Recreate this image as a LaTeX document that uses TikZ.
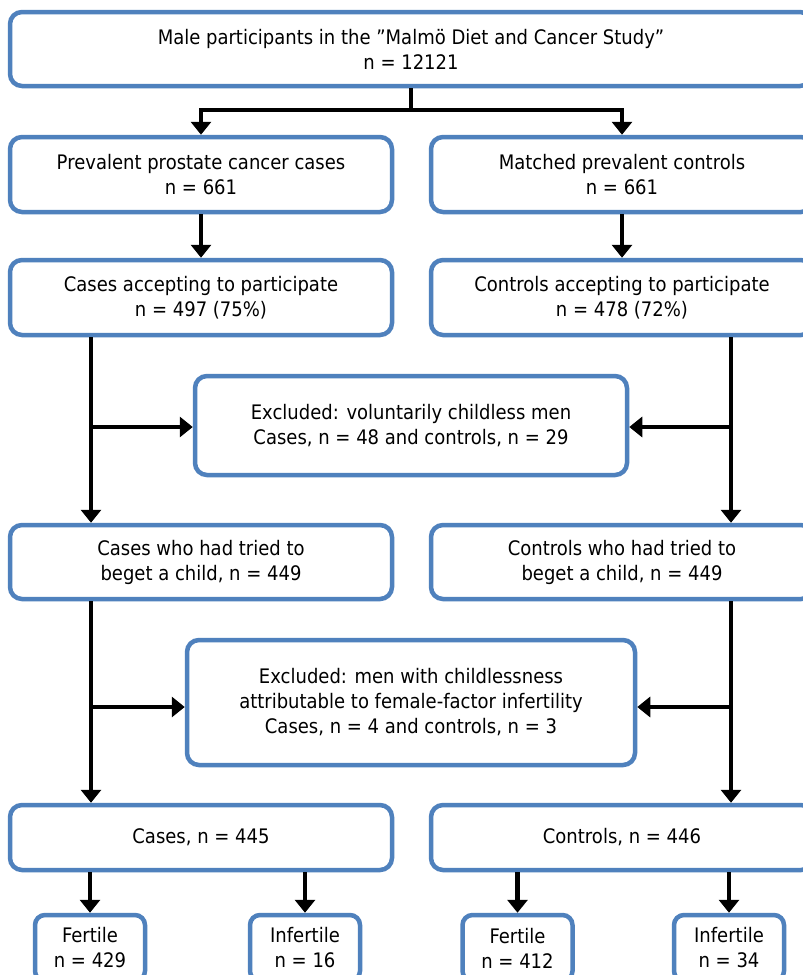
\documentclass[tikz,border=0pt]{standalone}
\usepackage{fontspec}
\setmainfont{DejaVu Sans}[FakeStretch=0.9]
\usetikzlibrary{arrows.meta}
\definecolor{boxblue}{RGB}{79,129,189}
\tikzset{
  x=1pt, y=-1pt,
  box/.style={draw=boxblue, line width=4.5pt, rounded corners=12pt, fill=white,
    inner sep=0pt, align=center, font=\fontsize{20}{25}\selectfont},
  smallbox/.style={box, rounded corners=10pt, minimum width=110pt, minimum height=66pt},
  rowbox/.style={box, minimum width=382pt},
  conn/.style={line width=4.8pt, draw=black},
  arr/.style={conn, -{Triangle[width=20pt,length=13pt]}},
}
\begin{document}
\begin{tikzpicture}
\useasboundingbox (0,0) rectangle (803,975);
\clip (0,0) rectangle (803,975);
\fill[white] (0,0) rectangle (803,975);

\node[box, minimum width=802pt, minimum height=74pt] (top) at (411,49)
  {Male participants in the ”Malmö Diet and Cancer Study”\\n = 12121};

\node[rowbox, minimum height=75pt] (L2) at (201,174.5) {Prevalent prostate cancer cases\\n = 661};
\node[rowbox, minimum height=75pt] (R2) at (622,174.5) {Matched prevalent controls\\n = 661};

\node[rowbox, minimum height=75pt] (L3) at (201,297.5) {Cases accepting to participate\\n = 497 (75\%)};
\node[rowbox, minimum height=75pt] (R3) at (622,297.5) {Controls accepting to participate\\n = 478 (72\%)};

\node[box, minimum width=432pt, minimum height=99pt] (E1) at (411,425.5)
  {Excluded: voluntarily childless men\\Cases, n = 48 and controls, n = 29};

\node[rowbox, minimum height=74pt] (L4) at (201,562) {Cases who had tried to\\beget a child, n = 449};
\node[rowbox, minimum height=74pt] (R4) at (622,562) {Controls who had tried to\\beget a child, n = 449};

\node[box, minimum width=448pt, minimum height=125pt] (E2) at (411,702.5)
  {Excluded: men with childlessness\\attributable to female-factor infertility\\Cases, n = 4 and controls, n = 3};

\node[rowbox, minimum height=65pt] (L5) at (201,837.5) {Cases, n = 445};
\node[rowbox, minimum height=65pt] (R5) at (622,837.5) {Controls, n = 446};

\node[smallbox] (B1) at (90,948) {Fertile\\n = 429};
\node[smallbox] (B2) at (305,948) {Infertile\\n = 16};
\node[smallbox] (B3) at (517.5,948) {Fertile\\n = 412};
\node[smallbox] (B4) at (729,948) {Infertile\\n = 34};

% connectors
\coordinate (j0) at (411,110);
\coordinate (lx) at (91,0);
\coordinate (rx) at (731,0);
\coordinate (e1y) at (0,427);
\coordinate (e2y) at (0,707);

\draw[conn] (top.south) -- (j0);
\draw[arr] (j0) -| (L2.north);
\draw[arr] (j0) -| (R2.north);

\draw[arr] (L2.south) -- (L3.north);
\draw[arr] (R2.south) -- (R3.north);

\draw[arr] (L3.south -| lx) -- (L4.north -| lx);
\draw[arr] (R3.south -| rx) -- (R4.north -| rx);
\draw[arr] (e1y -| lx) -- (e1y -| E1.west);
\draw[arr] (e1y -| rx) -- (e1y -| E1.east);

\draw[arr] (L4.south -| lx) -- (L5.north -| lx);
\draw[arr] (R4.south -| rx) -- (R5.north -| rx);
\draw[arr] (e2y -| lx) -- (e2y -| E2.west);
\draw[arr] (e2y -| rx) -- (e2y -| E2.east);

\draw[arr] (L5.south -| B1.north) -- (B1.north);
\draw[arr] (L5.south -| B2.north) -- (B2.north);
\draw[arr] (R5.south -| B3.north) -- (B3.north);
\draw[arr] (R5.south -| B4.north) -- (B4.north);
\end{tikzpicture}
\end{document}
